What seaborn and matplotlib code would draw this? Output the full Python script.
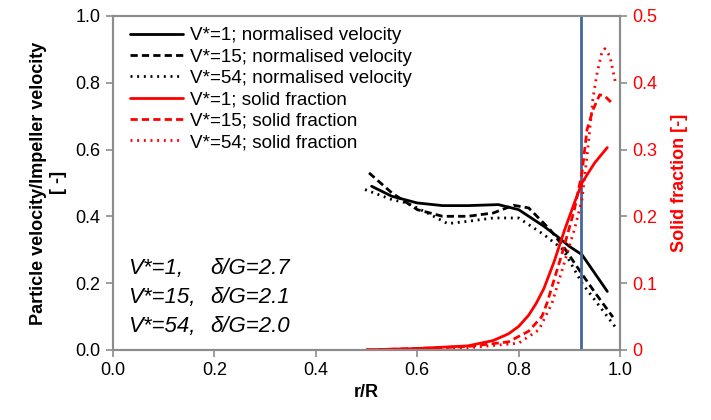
import matplotlib
matplotlib.use("Agg")
import matplotlib.pyplot as plt
import seaborn as sns
import pandas as pd

sns.set_theme(style="white")
plt.rcParams['font.family'] = ['Liberation Sans', 'DejaVu Sans']
plt.rcParams['text.color'] = 'black'
plt.rcParams['axes.labelcolor'] = 'black'
plt.rcParams['xtick.color'] = 'black'
plt.rcParams['ytick.color'] = 'black'

# Normalised particle velocity (left axis)
x_v1 = [0.51, 0.55, 0.60, 0.65, 0.70, 0.76, 0.80, 0.85, 0.876, 0.90, 0.925, 0.95, 0.975]
v_v1 = [0.49, 0.46, 0.44, 0.432, 0.432, 0.435, 0.42, 0.37, 0.34, 0.31, 0.285, 0.23, 0.175]

x_v15 = [0.505, 0.55, 0.60, 0.65, 0.70, 0.75, 0.79, 0.82, 0.862, 0.888, 0.925, 0.95, 0.986]
v_v15 = [0.53, 0.47, 0.42, 0.40, 0.40, 0.41, 0.433, 0.425, 0.36, 0.31, 0.227, 0.173, 0.098]

x_v54 = [0.497, 0.55, 0.58, 0.62, 0.66, 0.70, 0.75, 0.80, 0.85, 0.888, 0.925, 0.96, 0.99]
v_v54 = [0.48, 0.45, 0.44, 0.41, 0.378, 0.385, 0.395, 0.395, 0.345, 0.30, 0.20, 0.13, 0.07]

# Solid fraction (right axis)
x_s1 = [0.50, 0.60, 0.70, 0.75, 0.78, 0.80, 0.82, 0.835, 0.85, 0.87, 0.89, 0.91, 0.925, 0.95, 0.975]
s_s1 = [0.0, 0.002, 0.006, 0.014, 0.024, 0.035, 0.052, 0.07, 0.092, 0.132, 0.178, 0.22, 0.25, 0.28, 0.303]

x_s15 = [0.50, 0.60, 0.70, 0.78, 0.82, 0.846, 0.856, 0.87, 0.888, 0.91, 0.925, 0.935, 0.947, 0.96, 0.97, 0.985]
s_s15 = [0.0, 0.002, 0.005, 0.012, 0.028, 0.05, 0.07, 0.105, 0.15, 0.21, 0.265, 0.33, 0.36, 0.382, 0.38, 0.369]

x_s54 = [0.50, 0.60, 0.70, 0.80, 0.84, 0.866, 0.89, 0.91, 0.925, 0.935, 0.947, 0.955, 0.964, 0.97, 0.98, 0.992]
s_s54 = [0.0, 0.001, 0.003, 0.01, 0.03, 0.07, 0.13, 0.18, 0.225, 0.29, 0.379, 0.415, 0.445, 0.451, 0.44, 0.397]

x_marker = 0.923

labels_v = ["V*=1; normalised velocity", "V*=15; normalised velocity", "V*=54; normalised velocity"]
labels_s = ["V*=1; solid fraction", "V*=15; solid fraction", "V*=54; solid fraction"]
annot_left = ["V*=1,", "V*=15,", "V*=54,"]
annot_right = ["\u03b4/G=2.7", "\u03b4/G=2.1", "\u03b4/G=2.0"]

dash = (0, (2.6, 1.5))
dot = (0, (0.7, 1.7))
styles = ['-', dash, dot]

fig = plt.figure(figsize=(7.11, 4.2), dpi=100)
ax = fig.add_axes([0.159, 0.167, 0.713, 0.795])
ax2 = ax.twinx()

vel = [(x_v1, v_v1), (x_v15, v_v15), (x_v54, v_v54)]
sol = [(x_s1, s_s1), (x_s15, s_s15), (x_s54, s_s54)]

handles = []
for (xx, yy), ls, lab in zip(vel, styles, labels_v):
    df = pd.DataFrame({"x": xx, "y": yy})
    sns.lineplot(data=df, x="x", y="y", ax=ax, color="black", lw=2.0, sort=False, legend=False)
    ln = ax.get_lines()[-1]
    ln.set_linestyle(ls)
    ln.set_label(lab)
    handles.append(ln)

for (xx, yy), ls, lab in zip(sol, styles, labels_s):
    df = pd.DataFrame({"x": xx, "y": yy})
    sns.lineplot(data=df, x="x", y="y", ax=ax2, color="#ff0000", lw=2.0, sort=False, legend=False)
    ln = ax2.get_lines()[-1]
    ln.set_linestyle(ls)
    ln.set_label(lab)
    handles.append(ln)

ax.axvline(x_marker, color="#44679b", lw=2.0)

for a in (ax, ax2):
    lg = a.get_legend()
    if lg is not None:
        lg.remove()

ax.set_xlim(0, 1)
ax.set_ylim(0, 1)
ax2.set_ylim(0, 0.5)
ax.set_xticks([0, 0.2, 0.4, 0.6, 0.8, 1.0])
ax.set_xticklabels(["0.0", "0.2", "0.4", "0.6", "0.8", "1.0"])
ax.set_yticks([0, 0.2, 0.4, 0.6, 0.8, 1.0])
ax.set_yticklabels(["0.0", "0.2", "0.4", "0.6", "0.8", "1.0"])
ax2.set_yticks([0, 0.1, 0.2, 0.3, 0.4, 0.5])
ax2.set_yticklabels(["0", "0.1", "0.2", "0.3", "0.4", "0.5"])

gray = "#8c8c8c"
for a in (ax, ax2):
    for s in a.spines.values():
        s.set_color(gray)
        s.set_linewidth(1.5)
ax.tick_params(axis='both', direction='out', length=5, width=1.2, color=gray,
               labelsize=13, labelcolor='black', left=True, bottom=True, pad=4)
ax2.tick_params(axis='y', direction='out', length=5, width=1.2, color=gray,
                labelsize=13, labelcolor='#ff0000', right=True, pad=4)

ax.set_xlabel("r/R", fontsize=13, fontweight='bold', labelpad=3, color='black')
ax.set_ylabel("Particle velocity/Impeller velocity\n[ -]", fontsize=13, fontweight='bold',
              labelpad=6, linespacing=1.25, color='black')
ax2.set_ylabel("Solid fraction [-]", fontsize=13, fontweight='bold', color='#ff0000', labelpad=10)

leg = ax2.legend(handles=handles, loc='upper left', bbox_to_anchor=(0.022, 0.984), frameon=False,
                 fontsize=13.6, handlelength=2.8, handletextpad=0.4, labelspacing=0.22,
                 borderaxespad=0.1, borderpad=0.2)
for t in leg.get_texts():
    t.set_color('black')

ys = [0.245, 0.156, 0.069]
for yv, tl, tr in zip(ys, annot_left, annot_right):
    ax.text(0.03, yv, tl, transform=ax.transAxes, fontsize=16, style='italic', va='center', ha='left', color='black')
    ax.text(0.191, yv, tr, transform=ax.transAxes, fontsize=16, style='italic', va='center', ha='left', color='black')

fig.savefig("out.png", dpi=100)
